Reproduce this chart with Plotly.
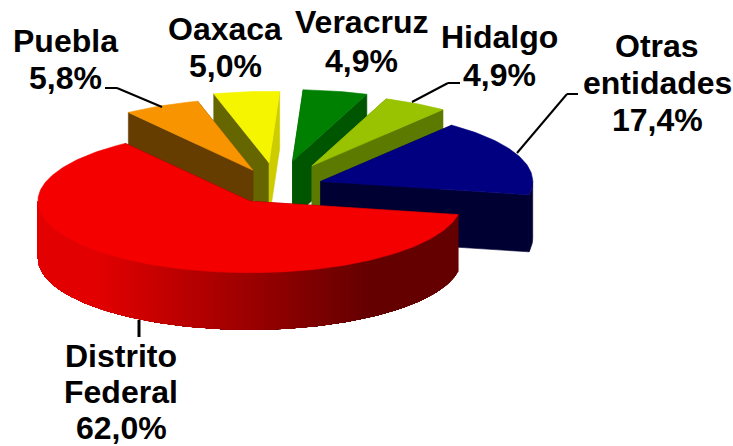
import numpy as np
import plotly.graph_objects as go

# --- data (clockwise from the red slice's end) ---
names = ["Puebla", "Oaxaca", "Veracruz", "Hidalgo", "Otras<br>entidades", "Distrito<br>Federal"]
values = [5.8, 5.0, 4.9, 4.9, 17.4, 62.0]
explode = [55, 72, 78, 72, 47, 50]
top_colors = ["#F79400", "#F5F500", "#008000", "#99C200", "#000080", "#F40000"]
side_colors = ["#663D00", "#666600", "#005500", "#5C7A00", "#000033", "#660000"]
end_face_colors = ["#663D00", "#CCCC00", "#005500", "#5C7A00", "#000033", "#660000"]
paint_order = [1, 0, 2, 3, 4, 5]
label_x = [65, 225, 361, 499, 657, 121]
label_baselines = [[52, 89], [40, 77], [33, 72], [48, 86], [57, 94, 131], [367, 403, 439]]
leaders = [
    ([(105, 88), (117, 88), (162, 107)], 2),
    ([(412, 102), (448, 83), (460, 83)], 2),
    ([(517, 153), (567, 94), (578, 94)], 2),
    ([(139, 320), (139, 337)], 3),
]

# --- projection settings ---
W, H = 733, 446
CX, CY, RX, RY, DEPTH = 276.7, 187.0, 212.0, 71.5, 57.0
START_DEG = -36.0
FONT_SIZE = 32

fig = go.Figure()


def add_poly(xs, ys, color, lw=0.6):
    fig.add_trace(go.Scatter(
        x=list(xs), y=list(ys), mode="lines", fill="toself", fillcolor=color,
        line=dict(color=color, width=lw), hoverinfo="skip", showlegend=False))


def rim(ax, ay, deg):
    t = np.radians(deg)
    return ax + RX * np.sin(t), ay - RY * np.cos(t)


def red_shade(x):
    t = np.clip((x - 100) / (370 - 100), 0, 1)
    return "rgb(%d,0,0)" % round(226 - t * (226 - 100))


bounds = START_DEG + np.r_[0, np.cumsum(values)] * 3.6

for i in paint_order:
    a0, a1 = bounds[i], bounds[i + 1]
    mid = np.radians((a0 + a1) / 2)
    ax = CX + explode[i] * np.sin(mid)
    ay = CY - explode[i] * np.cos(mid) * RY / RX

    # radial faces
    for deg, col in ((a0, side_colors[i]), (a1, end_face_colors[i])):
        rx_, ry_ = rim(ax, ay, deg)
        add_poly([ax, rx_, rx_, ax, ax], [ay, ry_, ry_ + DEPTH, ay + DEPTH, ay], col)

    # outer rim, front half only
    lo, hi = max(a0, 90), min(a1, 270)
    if hi > lo:
        if names[i].startswith("Distrito"):
            # painted from right to left, every strip reaching to the far end of the
            # next one, so that no seams show between the shades
            edges = np.arange(lo, hi + 1.0, 1.0)
            edges[-1] = hi
            for d0 in edges[:-1]:
                ds = np.linspace(d0, hi, max(int(hi - d0), 2))
                px, py = rim(ax, ay, ds)
                add_poly(np.r_[px, px[::-1], px[0]], np.r_[py, py[::-1] + DEPTH, py[0]],
                         red_shade(px[0]), lw=0)
        else:
            ds = np.linspace(lo, hi, 30)
            px, py = rim(ax, ay, ds)
            add_poly(np.r_[px, px[::-1], px[0]], np.r_[py, py[::-1] + DEPTH, py[0]], side_colors[i])

    # top face
    ds = np.linspace(a0, a1, max(int(a1 - a0), 8))
    px, py = rim(ax, ay, ds)
    add_poly(np.r_[ax, px, ax], np.r_[ay, py, ay], top_colors[i])

for name, v, lx, bases in zip(names, values, label_x, label_baselines):
    lines = name.split("<br>") + [f"{v:.1f}%".replace(".", ",")]
    for line, base in zip(lines, bases):
        fig.add_annotation(x=lx, y=base - FONT_SIZE * 0.345, text=line, showarrow=False,
                           xanchor="center", yanchor="middle",
                           font=dict(family="Liberation Sans", size=FONT_SIZE, color="black", weight="bold"))

for pts, lw in leaders:
    for (x0, y0), (x1, y1) in zip(pts[:-1], pts[1:]):
        fig.add_shape(type="line", x0=x0, y0=y0, x1=x1, y1=y1, line=dict(color="black", width=lw))

fig.update_layout(
    width=W, height=H, margin=dict(l=0, r=0, t=0, b=0),
    paper_bgcolor="white", plot_bgcolor="white", showlegend=False,
    xaxis=dict(range=[0, W], visible=False, fixedrange=True),
    yaxis=dict(range=[H, 0], visible=False, fixedrange=True),
)
fig.write_html("out.html", config={"displayModeBar": False},
               post_script="document.body.style.margin='0';document.body.style.overflow='hidden';")
